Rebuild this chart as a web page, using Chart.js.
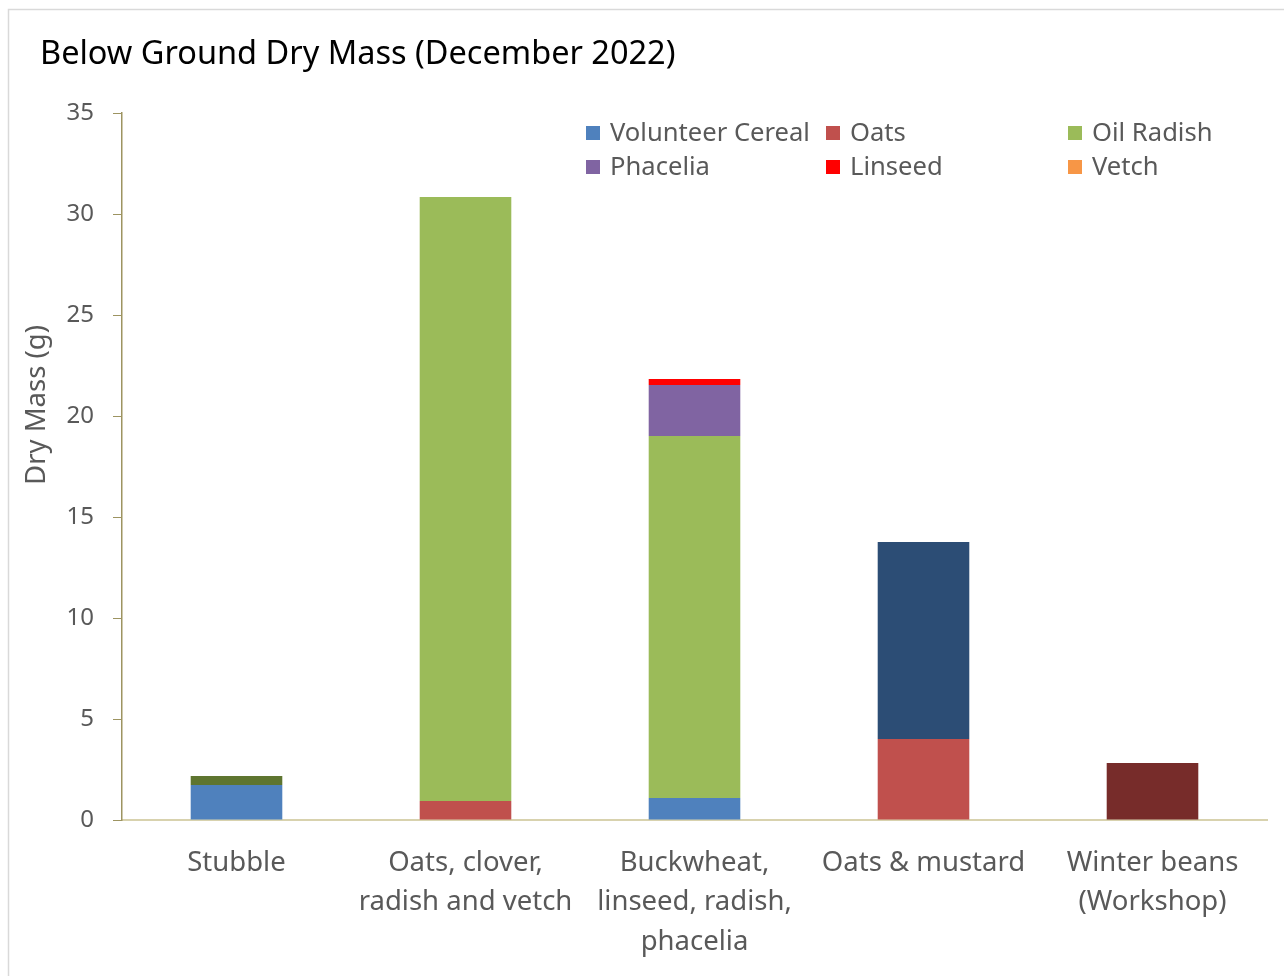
<!DOCTYPE html>
<html>
<head>
<meta charset="utf-8">
<title>Below Ground Dry Mass</title>
<script src="https://cdn.jsdelivr.net/npm/chart.js@4.4.0/dist/chart.umd.min.js"></script>
<style>
    html, body { margin: 0; padding: 0; background: #fff; }
    #wrap { width: 1284px; height: 976px; position: relative; }
</style>
</head>
<body>
<div id="wrap"><canvas id="grafico" width="1284" height="976"></canvas></div>
<script>
/* ---------- datos ---------- */
const categorias = ['Stubble', ['Oats, clover,', 'radish and vetch'], ['Buckwheat,', 'linseed, radish,', 'phacelia'], 'Oats & mustard', ['Winter beans', '(Workshop)']];

const volunteerCereal = [1.73, null, 1.09, null, null];
const oats            = [null, 0.94, null, 4.01, null];
const oilRadish       = [null, 29.9, 17.92, null, null];
const phacelia        = [null, null, 2.52, null, null];
const linseed         = [null, null, 0.30, null, null];
const vetch           = [null, null, null, null, null];
const weeds           = [0.45, null, null, null, null];
const mustard         = [null, null, null, 9.75, null];
const winterBeans     = [null, null, null, null, 2.82];

const yTicks = [0, 5, 10, 15, 20, 25, 30, 35];

const FONT = '"Noto Sans", sans-serif';
const GRIS = '#595959';

// series en orden de apilado (la primera queda abajo)
const series = [
    { label: 'Volunteer Cereal', data: volunteerCereal, color: '#4F81BD', leyenda: true },
    { label: 'Oats',             data: oats,            color: '#C0504D', leyenda: true },
    { label: 'Oil Radish',       data: oilRadish,       color: '#9BBB59', leyenda: true },
    { label: 'Phacelia',         data: phacelia,        color: '#8064A2', leyenda: true },
    { label: 'Linseed',          data: linseed,         color: '#FF0000', leyenda: true },
    { label: 'Vetch',            data: vetch,           color: '#F79646', leyenda: true },
    { label: 'Weeds',            data: weeds,           color: '#5E7530', leyenda: false },
    { label: 'Mustard',          data: mustard,         color: '#2C4D75', leyenda: false },
    { label: 'Winter Beans',     data: winterBeans,     color: '#772C2A', leyenda: false }
];

/* ---------- extras dibujados a mano: marco, título, leyenda, título del eje ---------- */
const extras = {
    id: 'extras',
    beforeDraw(chart) {
        const ctx = chart.ctx;
        ctx.save();
        ctx.strokeStyle = '#D9D9D9';
        ctx.lineWidth = 1.5;
        ctx.strokeRect(8.5, 9.5, 1400, 1100);
        ctx.restore();
    },
    afterDraw(chart) {
        const ctx = chart.ctx;
        ctx.save();

        // título
        ctx.fillStyle = '#000';
        ctx.font = '32.5px ' + FONT;
        ctx.textBaseline = 'middle';
        ctx.textAlign = 'left';
        ctx.fillText('Below Ground Dry Mass (December 2022)', 40, 55);

        // título eje Y
        ctx.save();
        ctx.translate(37, 405);
        ctx.rotate(-Math.PI / 2);
        ctx.textAlign = 'center';
        ctx.fillStyle = GRIS;
        ctx.font = '27.5px ' + FONT;
        ctx.fillText('Dry Mass (g)', 0, 0);
        ctx.restore();

        // leyenda en 3 columnas
        const cols = [586, 826, 1068];
        const filas = [133, 167];
        ctx.font = '25.6px ' + FONT;
        ctx.textAlign = 'left';
        chart.data.datasets.filter(d => d.leyenda).forEach((d, i) => {
            const x = cols[i % 3];
            const y = filas[Math.floor(i / 3)];
            ctx.fillStyle = d.backgroundColor;
            ctx.fillRect(x, y - 7, 14, 14);
            ctx.fillStyle = GRIS;
            ctx.fillText(d.label, x + 24, y + 1);
        });
        ctx.restore();
    }
};

new Chart(document.getElementById('grafico'), {
    type: 'bar',
    data: {
        labels: categorias,
        datasets: series.map(s => ({
            label: s.label,
            data: s.data,
            backgroundColor: s.color,
            leyenda: s.leyenda,
            categoryPercentage: 1,
            barPercentage: 0.4
        }))
    },
    options: {
        responsive: false,
        animation: false,
        layout: { padding: { left: 20, top: 113, right: 17, bottom: 0 } },
        plugins: { legend: { display: false }, title: { display: false }, tooltip: { enabled: false } },
        scales: {
            x: {
                stacked: true,
                grid: { display: false },
                border: { color: '#D8D2AE', width: 2 },
                ticks: { color: GRIS, font: { family: FONT, size: 27.5, lineHeight: 1.44 }, padding: 15, maxRotation: 0, autoSkip: false },
                afterFit(s) { s.height = 156; }
            },
            y: {
                stacked: true,
                min: 0,
                max: 35,
                afterBuildTicks(s) { s.ticks = yTicks.map(v => ({ value: v })); },
                grid: { drawOnChartArea: false, drawTicks: true, tickLength: 9, color: '#9D9461' },
                border: { color: '#9D9461', width: 1.5 },
                ticks: { color: GRIS, font: { family: FONT, size: 24 }, padding: 19 },
                afterFit(s) { s.width = 102; }
            }
        }
    },
    plugins: [extras]
});
</script>
</body>
</html>
